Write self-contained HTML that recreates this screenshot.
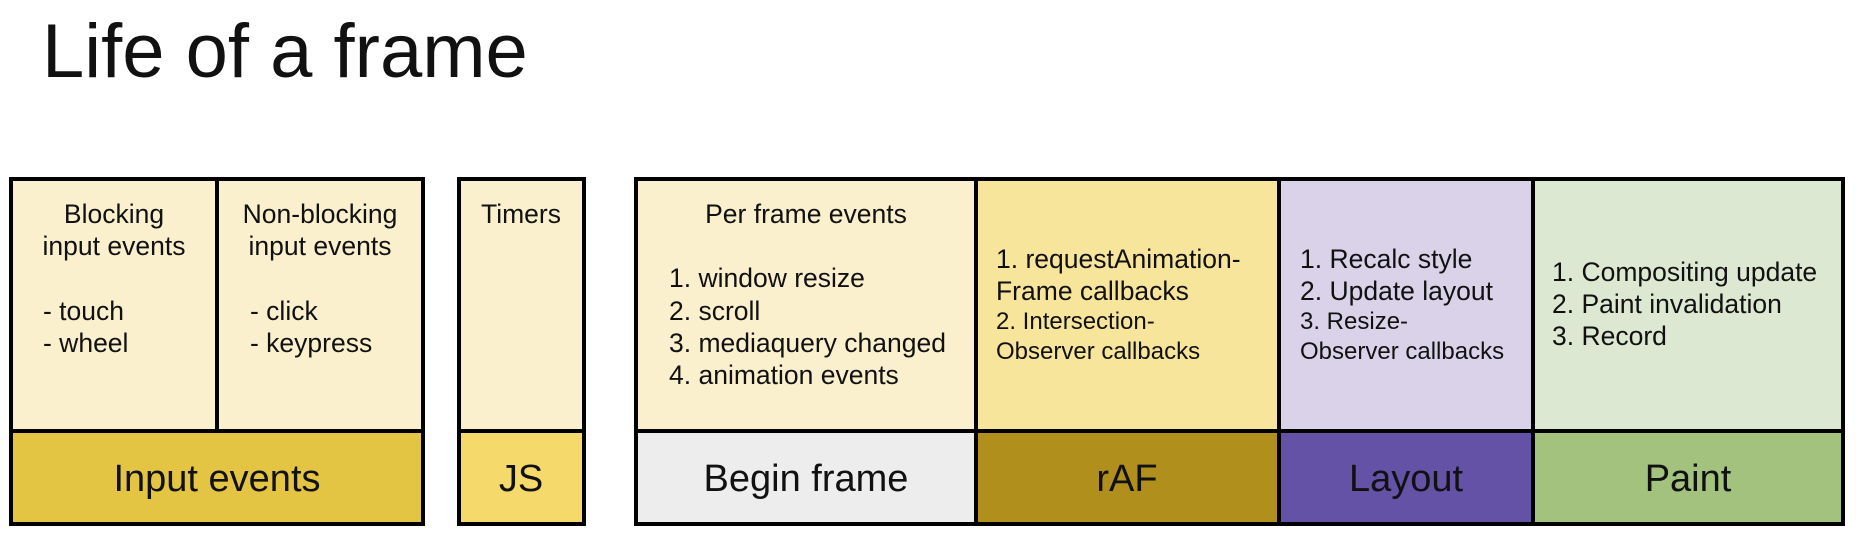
<!DOCTYPE html>
<html><head><meta charset="utf-8"><style>
html,body{margin:0;padding:0;background:#fff;}
svg{display:block;}
text{font-family:"Liberation Sans",Arial,sans-serif;fill:#111;}
.s{font-size:26.5px;}
.b{font-size:38px;}
</style></head><body>
<svg width="1856" height="553" viewBox="0 0 1856 553" xmlns="http://www.w3.org/2000/svg">
<text x="42" y="77" style="font-size:76px">Life of a frame</text>
<g stroke="#000" stroke-width="4">
<rect x="11" y="179" width="206" height="252" fill="#fbf0cd"/>
<rect x="217" y="179" width="206" height="252" fill="#fbf0cd"/>
<rect x="11" y="431" width="412" height="93" fill="#e3c443"/>
<rect x="459" y="179" width="125" height="252" fill="#fbf0cd"/>
<rect x="459" y="431" width="125" height="93" fill="#f5d96b"/>
<rect x="636" y="179" width="340" height="252" fill="#fbf0cd"/>
<rect x="636" y="431" width="340" height="93" fill="#ededed"/>
<rect x="976" y="179" width="303" height="252" fill="#f8e59c"/>
<rect x="976" y="431" width="303" height="93" fill="#b08f1c"/>
<rect x="1279" y="179" width="254" height="252" fill="#d9d2e9"/>
<rect x="1279" y="431" width="254" height="93" fill="#6452a6"/>
<rect x="1533" y="179" width="310" height="252" fill="#dde8d3"/>
<rect x="1533" y="431" width="310" height="93" fill="#a2c27e"/>
</g>
<g class="s">
<text x="114" y="223" text-anchor="middle">Blocking</text>
<text x="114" y="255" text-anchor="middle">input events</text>
<text x="43" y="320">- touch</text>
<text x="43" y="352">- wheel</text>
<text x="320" y="223" text-anchor="middle">Non-blocking</text>
<text x="320" y="255" text-anchor="middle">input events</text>
<text x="250" y="320">- click</text>
<text x="250" y="352">- keypress</text>
<text x="521" y="223" text-anchor="middle">Timers</text>
<text x="806" y="223" text-anchor="middle">Per frame events</text>
<text x="669" y="287">1. window resize</text>
<text x="669" y="320">2. scroll</text>
<text x="669" y="352">3. mediaquery changed</text>
<text x="669" y="384">4. animation events</text>
<text x="996" y="268">1. requestAnimation-</text>
<text x="996" y="300">Frame callbacks</text>
<text x="996" y="329" style="font-size:24px">2. Intersection-</text>
<text x="996" y="359" style="font-size:24px">Observer callbacks</text>
<text x="1300" y="268">1. Recalc style</text>
<text x="1300" y="300">2. Update layout</text>
<text x="1300" y="329" style="font-size:24px">3. Resize-</text>
<text x="1300" y="359" style="font-size:24px">Observer callbacks</text>
<text x="1552" y="281">1. Compositing update</text>
<text x="1552" y="313">2. Paint invalidation</text>
<text x="1552" y="345">3. Record</text>
</g>
<g class="b">
<text x="217" y="491" text-anchor="middle">Input events</text>
<text x="521" y="491" text-anchor="middle">JS</text>
<text x="806" y="491" text-anchor="middle">Begin frame</text>
<text x="1127" y="491" text-anchor="middle">rAF</text>
<text x="1406" y="491" text-anchor="middle">Layout</text>
<text x="1688" y="491" text-anchor="middle">Paint</text>
</g>
</svg>
</body></html>
